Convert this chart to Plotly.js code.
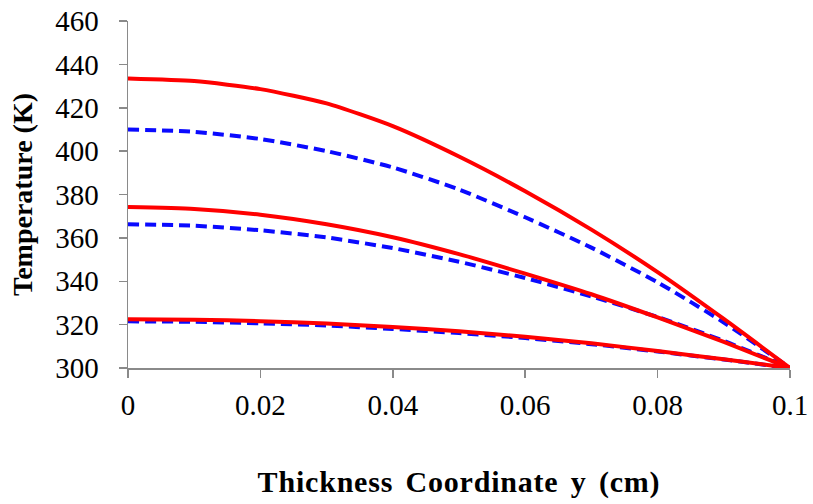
<!DOCTYPE html>
<html>
<head>
<meta charset="utf-8">
<script src="https://cdn.plot.ly/plotly-3.0.1.min.js"></script>
<style>
html,body{margin:0;padding:0;background:#fff;}
#chart{width:813px;height:504px;}
#chart svg text{font-family:'Liberation Serif','Times New Roman',serif !important;}
#chart svg text.xtitle{letter-spacing:0.8px;word-spacing:4px;}
</style>
</head>
<body>
<div id="chart"></div>
<script>
// Thickness coordinate (cm)
const yCoord = [0, 0.01, 0.02, 0.03, 0.04, 0.05, 0.06, 0.07, 0.08, 0.09, 0.1];

// Temperatures (K)
const redHigh  = [433.5, 432.3, 428.6, 422.0, 411.5, 397.5, 381.5, 363.8, 344.2, 322.6, 300];
const blueHigh = [410.0, 408.9, 405.6, 400.0, 392.5, 382.3, 369.5, 355.5, 339.5, 321.0, 300];
const redMid   = [374.2, 373.3, 370.7, 366.3, 360.3, 352.5, 343.5, 334.0, 323.3, 312.0, 300];
const blueMid  = [366.3, 365.6, 363.5, 360.2, 355.3, 349.0, 341.5, 333.0, 323.5, 312.5, 300];
const redLow   = [322.5, 322.3, 321.6, 320.5, 318.9, 316.9, 314.4, 311.4, 307.8, 304.0, 300];
const blueLow  = [321.5, 321.3, 320.6, 319.6, 318.0, 316.1, 313.8, 311.0, 307.6, 303.9, 300];

const xTicks = [0, 0.02, 0.04, 0.06, 0.08, 0.1];
const xTickText = ['0', '0.02', '0.04', '0.06', '0.08', '0.1'];
const yTicks = [300, 320, 340, 360, 380, 400, 420, 440, 460];

const RED = '#ff0000';
const BLUE = '#0a0aff';

function solid(y) {
  return {x: yCoord, y: y, mode: 'lines', line: {color: RED, width: 4, shape: 'spline', smoothing: 0.6}, cliponaxis: false, hoverinfo: 'skip'};
}
function dashed(y) {
  return {x: yCoord, y: y, mode: 'lines', line: {color: BLUE, width: 4, dash: '11px,6px', shape: 'spline', smoothing: 0.6}, cliponaxis: false, hoverinfo: 'skip'};
}

const traces = [dashed(blueLow), dashed(blueMid), dashed(blueHigh), solid(redLow), solid(redMid), solid(redHigh)];

const axisColor = '#8a8a8a';
const serifFamily = 'Liberation Serif';

const layout = {
  width: 813, height: 504,
  margin: {l: 128, r: 23, t: 21, b: 136, pad: 0},
  paper_bgcolor: '#fff', plot_bgcolor: '#fff',
  showlegend: false,
  font: {family: serifFamily, color: '#000', size: 28},
  xaxis: {
    range: [0, 0.1], tickvals: xTicks, ticktext: xTickText,
    showline: true, linecolor: axisColor, linewidth: 1.5,
    ticks: 'outside', ticklen: 8, tickwidth: 1.5, tickcolor: axisColor,
    showgrid: false, zeroline: false,
    tickfont: {family: serifFamily, size: 29, color: '#000'},
    ticklabelstandoff: 3,
    title: {text: '<b>Thickness Coordinate y (cm)</b>', font: {family: serifFamily, size: 30, color: '#000'}, standoff: 50}
  },
  yaxis: {
    range: [300, 460], tickvals: yTicks,
    showline: true, linecolor: axisColor, linewidth: 1.5,
    ticks: 'outside', ticklen: 8, tickwidth: 1.5, tickcolor: axisColor,
    showgrid: false, zeroline: false,
    tickfont: {family: serifFamily, size: 29, color: '#000'},
    ticklabelstandoff: 14,
    title: {text: '<b>Temperature (K)</b>', font: {family: serifFamily, size: 28, color: '#000'}, standoff: 14}
  }
};

Plotly.newPlot('chart', traces, layout, {staticPlot: true, displayModeBar: false});
</script>
</body>
</html>
